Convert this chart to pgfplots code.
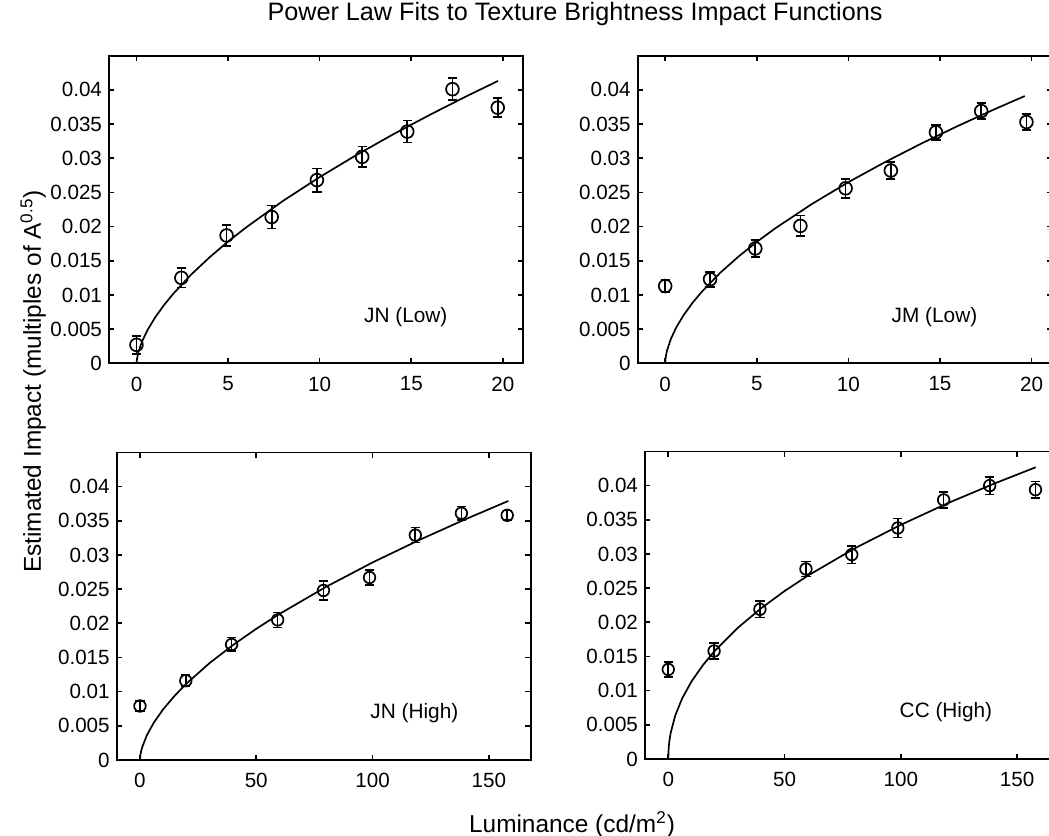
\documentclass[border=0pt]{standalone}
\usepackage{fontspec}
\setmainfont{Liberation Sans}
\usepackage{pgfplots}
\usepackage{pgfplotstable}
\pgfplotsset{compat=1.18}

% data: x, estimate, half error bar
\pgfplotstableread{
x     y      e
0     0.0027 0.0013
2.45  0.0125 0.0014
4.92  0.0187 0.0015
7.38  0.0214 0.0017
9.85  0.0268 0.0017
12.32 0.0302 0.0015
14.78 0.0339 0.0016
17.25 0.0401 0.0016
19.72 0.0374 0.0014
}\jnlow
\pgfplotstableread{
x     y      e
0     0.0113 0.0009
2.45  0.0123 0.0011
4.92  0.0168 0.0012
7.38  0.0201 0.0015
9.85  0.0256 0.0014
12.32 0.0282 0.0012
14.78 0.0338 0.0011
17.25 0.0369 0.0012
19.72 0.0353 0.0012
}\jmlow
\pgfplotstableread{
x     y      e
0     0.0079 0.0007
19.7  0.0116 0.0008
39.4  0.0169 0.0010
59.2  0.0205 0.0011
78.9  0.0248 0.0014
98.7  0.0267 0.0011
118.4 0.0329 0.0011
138.2 0.0361 0.0010
157.9 0.0358 0.0007
}\jnhigh
\pgfplotstableread{
x     y      e
0     0.0131 0.0011
19.7  0.0158 0.0012
39.4  0.0219 0.0012
59.2  0.0278 0.0011
78.9  0.0299 0.0013
98.7  0.0338 0.0014
118.4 0.0379 0.0012
138.2 0.0400 0.0013
157.9 0.0394 0.0012
}\cchigh

\pgfplotsset{
  panel/.style={
    scale only axis, width=207pt, height=153.8pt, anchor=south west,
    ymin=0, ymax=0.045,
    ytick={0,0.005,0.01,0.015,0.02,0.025,0.03,0.035,0.04},
    scaled y ticks=false,
    yticklabel style={/pgf/number format/fixed,
                      /pgf/number format/precision=3},
    /pgf/number format/assume math mode=true,
    tick label style={font=\fontsize{10.3}{12}\selectfont},
    xticklabel style={yshift=-3.2pt},
    tick align=inside, major tick length=2.6pt,
    axis line style={line width=0.9pt}, every tick/.style={line width=0.8pt},
  },
  lowx/.style={xmin=-1.5, xmax=21.1, xtick={0,5,10,15,20}},
  highx/.style={xmin=-10, xmax=168, xtick={0,50,100,150}},
  pts/.style={black, only marks, mark=o, mark size=#1,
              mark options={line width=0.85pt},
              error bars/.cd, y dir=both, y explicit,
              error bar style={line width=0.85pt},
              error mark options={rotate=90, line width=0.85pt, mark size=2.3pt}},
  fit/.style={black, line width=0.85pt, mark=none},
}

\begin{document}
\begin{tikzpicture}
\path[use as bounding box] (0,0) rectangle (524.5pt,417.5pt);

\node[anchor=base, font=\fontsize{12.6}{14}\selectfont] at (287.5pt,407pt)
  {Power Law Fits to Texture Brightness Impact Functions};
\node[anchor=base, font=\fontsize{12.2}{14}\selectfont] at (286pt,1.5pt)
  {Luminance (cd/m\textsuperscript{2})};
\node[anchor=base, rotate=90, font=\fontsize{12.2}{14}\selectfont] at (20.5pt,226.7pt)
  {Estimated Impact (multiples of A\textsuperscript{0.5})};

% JN (Low)
\begin{axis}[panel, lowx, at={(54.5pt,235.85pt)}]
  \addplot[fit] coordinates {(0,0) (0.03,0.0006) (0.1,0.00162) (0.3,0.00317)
    (0.6,0.00485) (1,0.00664) (1.5,0.00851) (2,0.01015) (3,0.01302) (4,0.01553)
    (5,0.01781) (6,0.01991) (8,0.02376) (10,0.02724) (12,0.03046) (14,0.03348)
    (16,0.03633) (18,0.03905) (19.73,0.0413)};
  \addplot[pts=3.2pt] table[x=x, y=y, y error=e] {\jnlow};
  \node[font=\fontsize{10.4}{12}\selectfont] at (axis cs:14.7,0.0067) {JN (Low)};
\end{axis}

% JM (Low)
\begin{axis}[panel, lowx, at={(318.85pt,235.85pt)}]
  \addplot[fit] coordinates {(0,0) (0.03,0.00093) (0.1,0.00186) (0.3,0.0035)
    (0.6,0.00523) (1,0.00702) (1.5,0.00887) (2,0.01047) (3,0.01323) (4,0.01561)
    (5,0.01776) (6,0.01973) (8,0.02329) (10,0.0265) (12,0.02943) (14,0.03217)
    (16,0.03475) (18,0.03719) (19.63,0.0391)};
  \addplot[pts=3.2pt] table[x=x, y=y, y error=e] {\jmlow};
  \node[font=\fontsize{10.4}{12}\selectfont] at (axis cs:14.7,0.0068) {JM (Low)};
\end{axis}

% JN (High)
\begin{axis}[panel, highx, at={(58.35pt,37.5pt)}]
  \addplot[fit] coordinates {(0,0) (0.2,0.00074) (0.5,0.00127) (1,0.00191)
    (3,0.00365) (6,0.00549) (10,0.00743) (15,0.00943) (20,0.01118) (30,0.0142)
    (40,0.01682) (50,0.01919) (60,0.02137) (80,0.02533) (100,0.0289)
    (120,0.03217) (140,0.03523) (158.4,0.0379)};
  \addplot[pts=2.9pt] table[x=x, y=y, y error=e] {\jnhigh};
  \node[font=\fontsize{10.4}{12}\selectfont] at (axis cs:118,0.0068) {JN (High)};
\end{axis}

% CC (High)
\begin{axis}[panel, highx, at={(322.5pt,38pt)}]
  \addplot[fit] coordinates {(0,0) (0.2,0.00174) (0.5,0.00269) (1,0.00376)
    (3,0.00637) (6,0.00888) (10,0.01135) (15,0.01378) (20,0.01583) (30,0.01922)
    (40,0.02207) (50,0.02457) (60,0.02682) (80,0.03079) (100,0.03426)
    (120,0.0374) (140,0.04027) (158,0.04268)};
  \addplot[pts=2.9pt] table[x=x, y=y, y error=e] {\cchigh};
  \node[font=\fontsize{10.4}{12}\selectfont] at (axis cs:119.4,0.0068) {CC (High)};
\end{axis}
\end{tikzpicture}
\end{document}
